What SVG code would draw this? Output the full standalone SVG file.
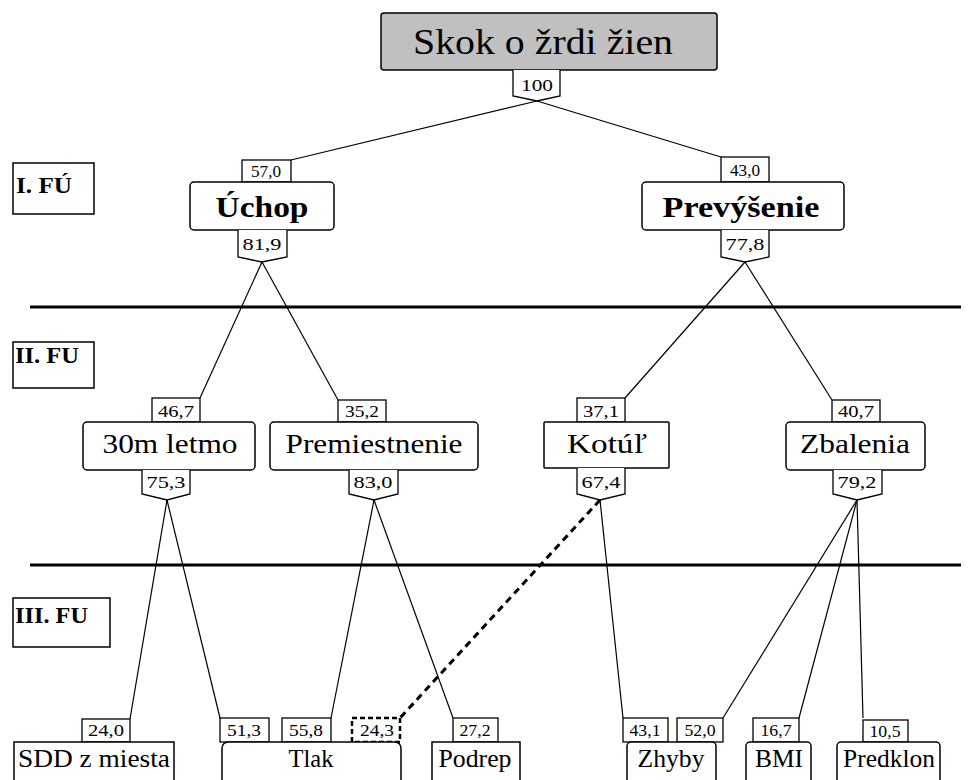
<svg xmlns="http://www.w3.org/2000/svg" width="979" height="780" viewBox="0 0 979 780">
<style>
.bg{fill:#ffffff}
.box{fill:#ffffff;stroke:#000;stroke-width:1.5}
.root{fill:#c0c0c0;stroke:#000;stroke-width:1.5}
.tag{fill:#ffffff;stroke:#000;stroke-width:1.3}
.dtag{fill:#ffffff;stroke:#000;stroke-width:2.5;stroke-dasharray:5 3}
.t{font-family:'Liberation Serif','DejaVu Serif',serif;fill:#000;text-anchor:middle}
.lbl{font-family:'Liberation Serif','DejaVu Serif',serif;fill:#000;font-weight:bold;font-size:23px}
.num{font-family:'Liberation Serif','DejaVu Serif',serif;fill:#000;text-anchor:middle;font-size:16px}
.conn{stroke:#000;stroke-width:1.2;fill:none}
.dash{stroke:#000;stroke-width:3;fill:none;stroke-dasharray:7 5}
.sep{stroke:#000;stroke-width:3}
</style>
<rect class="bg" x="0" y="0" width="979" height="780"/>
<g id="separators">
<line class="sep" x1="30" y1="307" x2="961" y2="307"/>
<line class="sep" x1="30" y1="565" x2="961" y2="565"/>
</g>
<g id="connectors">
<line class="conn" x1="537" y1="101" x2="291" y2="160"/>
<line class="conn" x1="537" y1="101" x2="721" y2="157"/>
<line class="conn" x1="262" y1="262" x2="200" y2="398"/>
<line class="conn" x1="262" y1="262" x2="338" y2="400"/>
<line class="conn" x1="745" y1="262" x2="625" y2="398"/>
<line class="conn" x1="745" y1="262" x2="832" y2="400"/>
<line class="conn" x1="167" y1="500" x2="130" y2="719"/>
<line class="conn" x1="167" y1="500" x2="220" y2="718"/>
<line class="conn" x1="374" y1="500" x2="331" y2="718"/>
<line class="conn" x1="374" y1="500" x2="453" y2="718"/>
<line class="dash" x1="600" y1="500" x2="400" y2="718"/>
<line class="conn" x1="600" y1="500" x2="623" y2="718"/>
<line class="conn" x1="857" y1="500" x2="723" y2="718"/>
<line class="conn" x1="857" y1="500" x2="799" y2="718"/>
<line class="conn" x1="857" y1="500" x2="863" y2="718"/>
</g>
<g id="level-labels">
<g id="lbl1"><rect class="box" x="13" y="163" width="81" height="51"/><text class="lbl" x="16" y="193" textLength="56" lengthAdjust="spacingAndGlyphs">I. FÚ</text></g>
<g id="lbl2"><rect class="box" x="13" y="342" width="81" height="46"/><text class="lbl" x="15" y="363" textLength="64" lengthAdjust="spacingAndGlyphs">II. FU</text></g>
<g id="lbl3"><rect class="box" x="13" y="598" width="97" height="49"/><text class="lbl" x="15" y="623" textLength="73" lengthAdjust="spacingAndGlyphs">III. FU</text></g>
</g>
<g id="root">
<rect class="root" x="381" y="13" width="336" height="57" rx="3"/>
<text class="t" x="543" y="54" font-size="36" textLength="260" lengthAdjust="spacingAndGlyphs">Skok o žrdi žien</text>
<path class="tag" d="M513,70 V96 L537,101 L560,96 V70"/>
<text class="num" x="537" y="91" font-size="18" textLength="32" lengthAdjust="spacingAndGlyphs">100</text>
</g>
<g id="uchop">
<rect class="tag" x="242" y="160" width="49" height="22"/>
<text class="num" x="266" y="177" font-size="14" textLength="30" lengthAdjust="spacingAndGlyphs">57,0</text>
<rect class="box" x="190" y="182" width="144" height="48" rx="4"/>
<text class="t" x="262" y="217" font-size="30" font-weight="bold" textLength="93" lengthAdjust="spacingAndGlyphs">Úchop</text>
<path class="tag" d="M238,230 V257 L262,262 L287,257 V230"/>
<text class="num" x="262" y="250" font-size="18" textLength="39" lengthAdjust="spacingAndGlyphs">81,9</text>
</g>
<g id="prevysenie">
<rect class="tag" x="721" y="157" width="48" height="25"/>
<text class="num" x="745" y="176" font-size="14" textLength="30" lengthAdjust="spacingAndGlyphs">43,0</text>
<rect class="box" x="642" y="182" width="202" height="48" rx="4"/>
<text class="t" x="741" y="217" font-size="30" font-weight="bold" textLength="157" lengthAdjust="spacingAndGlyphs">Prevýšenie</text>
<path class="tag" d="M721,230 V257 L745,262 L769,257 V230"/>
<text class="num" x="745" y="250" font-size="18" textLength="39" lengthAdjust="spacingAndGlyphs">77,8</text>
</g>
<g id="letmo">
<rect class="tag" x="152" y="398" width="48" height="24"/>
<text class="num" x="176" y="417" font-size="17" textLength="36" lengthAdjust="spacingAndGlyphs">46,7</text>
<rect class="box" x="83" y="422" width="172" height="48" rx="4"/>
<text class="t" x="170" y="453" font-size="27" textLength="135" lengthAdjust="spacingAndGlyphs">30m letmo</text>
<path class="tag" d="M142,470 V494 L167,500 L190,494 V470"/>
<text class="num" x="166" y="488" font-size="18" textLength="39" lengthAdjust="spacingAndGlyphs">75,3</text>
</g>
<g id="premiestnenie">
<rect class="tag" x="338" y="400" width="48" height="22"/>
<text class="num" x="362" y="417" font-size="17" textLength="34" lengthAdjust="spacingAndGlyphs">35,2</text>
<rect class="box" x="270" y="422" width="208" height="48" rx="4"/>
<text class="t" x="374" y="453" font-size="27" textLength="177" lengthAdjust="spacingAndGlyphs">Premiestnenie</text>
<path class="tag" d="M349,470 V494 L374,500 L398,494 V470"/>
<text class="num" x="373" y="488" font-size="18" textLength="39" lengthAdjust="spacingAndGlyphs">83,0</text>
</g>
<g id="kotul">
<rect class="tag" x="577" y="398" width="48" height="24"/>
<text class="num" x="601" y="417" font-size="17" textLength="36" lengthAdjust="spacingAndGlyphs">37,1</text>
<rect class="box" x="544" y="422" width="125" height="46" rx="1"/>
<text class="t" x="607" y="453" font-size="27" textLength="80" lengthAdjust="spacingAndGlyphs">Kotúľ</text>
<path class="tag" d="M577,468 V494 L600,500 L625,494 V468"/>
<text class="num" x="601" y="488" font-size="18" textLength="39" lengthAdjust="spacingAndGlyphs">67,4</text>
</g>
<g id="zbalenia">
<rect class="tag" x="832" y="400" width="48" height="22"/>
<text class="num" x="856" y="417" font-size="17" textLength="36" lengthAdjust="spacingAndGlyphs">40,7</text>
<rect class="box" x="786" y="422" width="139" height="48" rx="4"/>
<text class="t" x="855" y="453" font-size="27" textLength="110" lengthAdjust="spacingAndGlyphs">Zbalenia</text>
<path class="tag" d="M833,470 V494 L857,500 L882,494 V470"/>
<text class="num" x="857" y="488" font-size="18" textLength="39" lengthAdjust="spacingAndGlyphs">79,2</text>
</g>
<g id="sdd">
<rect class="tag" x="82" y="719" width="48" height="23"/>
<text class="num" x="106" y="736" font-size="15" textLength="36" lengthAdjust="spacingAndGlyphs">24,0</text>
<rect class="box" x="14" y="742" width="160" height="50"/>
<text class="t" x="94" y="767" font-size="25" textLength="152" lengthAdjust="spacingAndGlyphs">SDD z miesta</text>
</g>
<g id="tlak">
<rect class="tag" x="220" y="718" width="49" height="24"/>
<text class="num" x="244" y="736" font-size="15" textLength="34" lengthAdjust="spacingAndGlyphs">51,3</text>
<rect class="tag" x="282" y="718" width="49" height="24"/>
<text class="num" x="306" y="736" font-size="15" textLength="34" lengthAdjust="spacingAndGlyphs">55,8</text>
<rect class="dtag" x="352" y="718" width="48" height="24"/>
<text class="num" x="377" y="736" font-size="15" textLength="34" lengthAdjust="spacingAndGlyphs">24,3</text>
<rect class="box" x="222" y="742" width="179" height="50" rx="6"/>
<text class="t" x="311" y="767" font-size="25" textLength="45" lengthAdjust="spacingAndGlyphs">Tlak</text>
</g>
<g id="podrep">
<rect class="tag" x="453" y="718" width="45" height="24"/>
<text class="num" x="475" y="736" font-size="15" textLength="31" lengthAdjust="spacingAndGlyphs">27,2</text>
<rect class="box" x="432" y="742" width="88" height="50"/>
<text class="t" x="475" y="767" font-size="25" textLength="73" lengthAdjust="spacingAndGlyphs">Podrep</text>
</g>
<g id="zhyby">
<rect class="tag" x="623" y="718" width="45" height="24"/>
<text class="num" x="645" y="736" font-size="15" textLength="31" lengthAdjust="spacingAndGlyphs">43,1</text>
<rect class="tag" x="677" y="718" width="46" height="24"/>
<text class="num" x="700" y="736" font-size="15" textLength="31" lengthAdjust="spacingAndGlyphs">52,0</text>
<rect class="box" x="627" y="742" width="89" height="50" rx="4"/>
<text class="t" x="671" y="767" font-size="25" textLength="67" lengthAdjust="spacingAndGlyphs">Zhyby</text>
</g>
<g id="bmi">
<rect class="tag" x="753" y="718" width="46" height="24"/>
<text class="num" x="776" y="736" font-size="15" textLength="31" lengthAdjust="spacingAndGlyphs">16,7</text>
<rect class="box" x="746" y="742" width="65" height="50" rx="4"/>
<text class="t" x="779" y="767" font-size="25" textLength="48" lengthAdjust="spacingAndGlyphs">BMI</text>
</g>
<g id="predklon">
<rect class="tag" x="863" y="720" width="45" height="22"/>
<text class="num" x="885" y="737" font-size="15" textLength="31" lengthAdjust="spacingAndGlyphs">10,5</text>
<rect class="box" x="837" y="742" width="103" height="50" rx="4"/>
<text class="t" x="889" y="767" font-size="25" textLength="92" lengthAdjust="spacingAndGlyphs">Predklon</text>
</g>
</svg>
